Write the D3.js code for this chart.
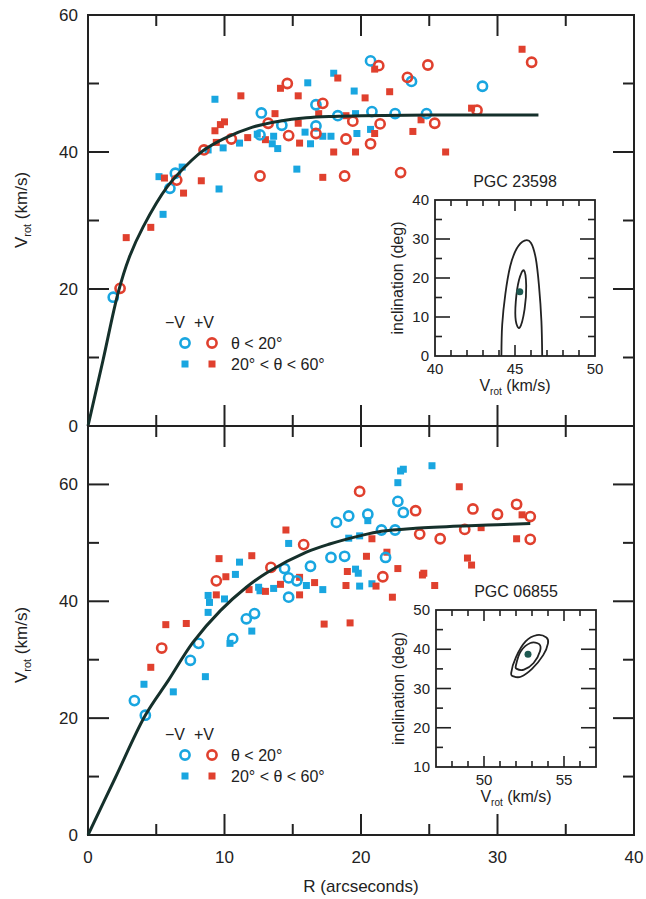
<!DOCTYPE html>
<html><head><meta charset="utf-8">
<script src="https://cdn.jsdelivr.net/npm/d3@7"></script>
<style>body{margin:0;background:#fff}svg{display:block}text{font-family:"Liberation Sans",Arial,sans-serif;fill:#222}</style>
</head><body><svg id="c" width="646" height="899"></svg>
<script>
// ---------- data (R arcsec, V km/s) ----------
const topNegCircle = [[1.85,18.8],[6.0,34.7],[6.4,36.9],[12.6,42.5],[12.7,45.7],[14.2,43.9],[16.7,46.9],[16.7,43.8],[18.3,45.3],[20.7,53.3],[20.8,45.9],[22.5,45.6],[23.7,50.3],[24.8,45.6],[28.9,49.6]];
const topPosCircle = [[2.35,20.1],[6.5,35.9],[8.5,40.3],[10.5,41.9],[12.6,36.5],[13.2,44.2],[14.6,50.0],[14.7,42.4],[16.7,42.7],[17.2,47.1],[18.8,36.5],[18.9,41.9],[19.4,44.5],[20.7,41.2],[21.3,52.6],[21.4,44.1],[22.9,37.0],[23.4,50.9],[24.9,52.7],[25.4,44.2],[28.5,46.1],[32.5,53.1]];
const topNegSquare = [[5.2,36.4],[5.5,30.9],[6.9,37.8],[8.8,40.3],[9.3,47.7],[9.6,34.6],[9.9,40.6],[11.1,41.3],[12.4,42.6],[13.6,42.3],[13.5,41.2],[13.9,40.5],[15.3,37.5],[15.9,42.9],[16.1,50.1],[16.3,41.2],[17.2,42.3],[17.8,42.3],[18.0,51.5],[19.5,48.9],[19.6,45.6],[19.7,42.7],[20.7,43.3]];
const topPosSquare = [[2.8,27.5],[4.6,29.0],[5.6,36.2],[7.0,34.0],[8.3,35.8],[9.3,43.1],[9.7,44.0],[10.0,44.4],[9.4,41.4],[11.2,48.2],[11.7,42.1],[13.0,41.8],[13.7,45.6],[14.1,49.3],[15.4,48.2],[15.4,44.2],[15.5,41.3],[16.9,45.6],[17.2,36.3],[18.0,40.0],[18.3,50.8],[18.9,45.3],[19.6,40.0],[20.3,47.9],[21.0,52.1],[21.0,42.7],[22.1,48.8],[23.8,43.0],[24.4,44.7],[26.2,40.0],[28.1,46.4],[31.8,55.0]];
const topCurve = [[0,0],[1.1,9.6],[2.2,19.4],[3,24.5],[4.05,29.1],[5.8,34.9],[7.6,38.8],[8.5,40.3],[10,42],[12,43.6],[14,44.5],[16,45],[18,45.2],[20,45.3],[25,45.4],[33,45.4]];

const botNegCircle = [[3.4,23.0],[4.2,20.5],[7.5,29.9],[8.1,32.8],[10.6,33.6],[11.6,37.0],[12.2,37.9],[14.4,45.6],[14.7,44.0],[14.7,40.7],[15.3,43.5],[16.3,46.0],[17.8,47.5],[18.2,53.5],[18.8,47.7],[19.1,54.6],[20.5,54.9],[21.5,52.2],[21.8,47.5],[22.5,52.2],[22.7,57.1],[23.1,55.2]];
const botPosCircle = [[5.4,32.0],[9.4,43.5],[13.4,45.8],[15.8,49.7],[19.9,58.8],[21.6,44.2],[24.0,55.5],[24.3,51.5],[25.8,50.7],[27.6,52.3],[28.2,55.8],[30.0,54.9],[31.4,56.6],[32.4,54.5],[32.4,50.6]];
const botNegSquare = [[4.1,25.8],[6.25,24.5],[8.6,27.1],[8.8,38.1],[8.8,41.0],[8.9,39.8],[10.0,40.4],[10.4,32.8],[10.8,44.6],[11.1,46.7],[12.0,34.9],[12.5,42.4],[12.6,41.8],[13.6,42.2],[14.7,49.9],[16.0,42.7],[17.2,42.0],[19.1,50.8],[19.6,45.5],[19.8,44.8],[19.9,42.6],[19.9,51.2],[20.5,53.8],[20.8,43.0],[22.7,60.3],[22.9,62.3],[23.1,62.6],[25.2,63.2]];
const botPosSquare = [[4.6,28.7],[5.7,36.0],[7.2,36.2],[9.4,41.1],[9.6,47.3],[10.1,44.2],[11.8,42.0],[12.0,47.8],[13.0,41.7],[14.1,42.9],[14.5,52.2],[15.5,44.1],[15.5,41.1],[16.6,43.2],[17.3,36.1],[19.2,36.3],[19.0,45.1],[18.9,42.7],[20.4,47.7],[20.8,50.7],[21.1,42.6],[21.9,48.4],[22.3,40.7],[22.7,45.6],[24.5,44.5],[24.6,44.8],[25.4,42.7],[27.2,59.6],[27.8,47.4],[28.1,46.2],[28.8,52.6],[31.4,50.7],[31.8,54.8]];
const botCurve = [[0,0],[2,9.8],[4.2,20.5],[5.9,26.5],[7.7,33.0],[9.7,38.4],[11.6,42.4],[13.1,44.9],[16,48.4],[17.7,49.8],[19.9,51.2],[21.5,52.0],[24,52.5],[27.5,52.9],[30,53.1],[32.4,53.3]];

// inset contours (Vrot km/s, inclination deg)
const inset1Outer = [[44.15,0],[44.2,8],[44.4,16],[44.7,23],[45.1,27.5],[45.6,29.6],[46.0,29],[46.3,25],[46.5,18],[46.65,9],[46.7,0]];
const inset1Inner = [[45.55,22],[45.7,18],[45.6,12],[45.3,7.3],[45.05,9],[45.05,14],[45.25,19.5]];
const inset1Best = [45.3,16.5];
const inset2Outer = [[51.7,34],[52.0,38],[52.6,42],[53.3,43.6],[53.9,43],[54.0,41.5],[53.7,38.5],[53.0,35],[52.3,33],[51.85,33.1]];
const inset2Inner = [[52.0,36],[52.3,39.5],[52.9,41.6],[53.45,41.3],[53.5,39.5],[53.1,36.5],[52.5,34.8],[52.05,35]];
const inset2Best = [52.75,38.7];

const xTickLabels = [0,10,20,30,40];
const topYLabels = [0,20,40,60];
const botYLabels = [0,20,40,60];

const CYAN = "#19a6e0", RED = "#e0402e", CURVE = "#15302b", INK = "#222";

const svg = d3.select("#c");
const L = 88, R = 634;
const x = d3.scaleLinear().domain([0,40]).range([L,R]);

function panel(y0, y1, yMax, yLabels, data, curve, titleY, legendY) {
  const y = d3.scaleLinear().domain([0,yMax]).range([y1,y0]);
  const g = svg.append("g");
  const xt = d3.range(5,40,5);
  xt.forEach(v => {
    const len = v % 10 === 0 ? 21 : 11;
    g.append("line").attr("x1",x(v)).attr("x2",x(v)).attr("y1",y1).attr("y2",y1-len).attr("stroke",INK).attr("stroke-width",2);
    g.append("line").attr("x1",x(v)).attr("x2",x(v)).attr("y1",y0).attr("y2",y0+len).attr("stroke",INK).attr("stroke-width",2);
  });
  d3.range(10,yMax,10).forEach(v => {
    const len = v % 20 === 0 ? 21 : 11;
    g.append("line").attr("x1",L).attr("x2",L+len).attr("y1",y(v)).attr("y2",y(v)).attr("stroke",INK).attr("stroke-width",2);
    g.append("line").attr("x1",R).attr("x2",R-len).attr("y1",y(v)).attr("y2",y(v)).attr("stroke",INK).attr("stroke-width",2);
  });
  g.append("rect").attr("x",L).attr("y",y0).attr("width",R-L).attr("height",y1-y0).attr("fill","none").attr("stroke",INK).attr("stroke-width",2);
  yLabels.forEach(v => {
    g.append("text").attr("x",L-10).attr("y",y(v)+6).attr("text-anchor","end").attr("font-size",17).text(v);
  });
  const t = g.append("text").attr("transform",`translate(27,${titleY}) rotate(-90)`).attr("text-anchor","middle").attr("font-size",17);
  t.append("tspan").text("V");
  t.append("tspan").attr("font-size",11).attr("dy",4).text("rot");
  t.append("tspan").attr("dy",-4).text(" (km/s)");
  const [negC,posC,negS,posS] = data;
  const sq = 7;
  [[negS,CYAN],[posS,RED]].forEach(([arr,c]) => {
    g.selectAll(null).data(arr).enter().append("rect")
      .attr("x",d=>x(d[0])-sq/2).attr("y",d=>y(d[1])-sq/2).attr("width",sq).attr("height",sq).attr("fill",c);
  });
  [[negC,CYAN],[posC,RED]].forEach(([arr,c]) => {
    g.selectAll(null).data(arr).enter().append("circle")
      .attr("cx",d=>x(d[0])).attr("cy",d=>y(d[1])).attr("r",4.6).attr("fill","none").attr("stroke",c).attr("stroke-width",2.6);
  });
  g.append("path").datum(curve).attr("fill","none").attr("stroke",CURVE).attr("stroke-width",3)
    .attr("d", d3.line().x(d=>x(d[0])).y(d=>y(d[1])).curve(d3.curveCatmullRom.alpha(0.5)));
  const ly = legendY;
  g.append("text").attr("x",165).attr("y",ly).attr("font-size",16).attr("xml:space","preserve").text("\u2212V  +V");
  g.append("circle").attr("cx",185).attr("cy",ly+15).attr("r",4.6).attr("fill","none").attr("stroke",CYAN).attr("stroke-width",2.6);
  g.append("circle").attr("cx",212).attr("cy",ly+15).attr("r",4.6).attr("fill","none").attr("stroke",RED).attr("stroke-width",2.6);
  g.append("text").attr("x",231).attr("y",ly+21).attr("font-size",16).text("\u03b8 < 20\u00b0");
  g.append("rect").attr("x",185-3.5).attr("y",ly+36-3.5).attr("width",7).attr("height",7).attr("fill",CYAN);
  g.append("rect").attr("x",212-3.5).attr("y",ly+36-3.5).attr("width",7).attr("height",7).attr("fill",RED);
  g.append("text").attr("x",231).attr("y",ly+42).attr("font-size",16).text("20\u00b0 < \u03b8 < 60\u00b0");
  return y;
}

panel(15, 426, 60, topYLabels, [topNegCircle,topPosCircle,topNegSquare,topPosSquare], topCurve, 210, 328);
panel(426, 835, 70, botYLabels, [botNegCircle,botPosCircle,botNegSquare,botPosSquare], botCurve, 645, 740);

xTickLabels.forEach(v => {
  svg.append("text").attr("x",x(v)).attr("y",863).attr("text-anchor","middle").attr("font-size",17).text(v);
});
svg.append("text").attr("x",x(20)).attr("y",892).attr("text-anchor","middle").attr("font-size",17).text("R (arcseconds)");

function inset(opt) {
  const {x0,x1,y0,y1,xd,yd,xMajor,xLabels,yLabels,yMajorStep,outer,outerClosed,inner,best,title} = opt;
  const sx = d3.scaleLinear().domain(xd).range([x0,x1]);
  const sy = d3.scaleLinear().domain(yd).range([y1,y0]);
  const g = svg.append("g");
  g.append("rect").attr("x",x0).attr("y",y0).attr("width",x1-x0).attr("height",y1-y0).attr("fill","#fff");
  d3.range(xd[0]+1, xd[1], 1).forEach(v => {
    const len = xMajor.includes(v) ? 11 : 6;
    g.append("line").attr("x1",sx(v)).attr("x2",sx(v)).attr("y1",y1).attr("y2",y1-len).attr("stroke",INK).attr("stroke-width",1.6);
    g.append("line").attr("x1",sx(v)).attr("x2",sx(v)).attr("y1",y0).attr("y2",y0+len).attr("stroke",INK).attr("stroke-width",1.6);
  });
  d3.range(yd[0]+5, yd[1], 5).forEach(v => {
    const len = (v % yMajorStep === 0) ? 15 : 7;
    g.append("line").attr("x1",x0).attr("x2",x0+len).attr("y1",sy(v)).attr("y2",sy(v)).attr("stroke",INK).attr("stroke-width",1.6);
    g.append("line").attr("x1",x1).attr("x2",x1-len).attr("y1",sy(v)).attr("y2",sy(v)).attr("stroke",INK).attr("stroke-width",1.6);
  });
  g.append("rect").attr("x",x0).attr("y",y0).attr("width",x1-x0).attr("height",y1-y0).attr("fill","none").attr("stroke",INK).attr("stroke-width",1.8);
  yLabels.forEach(v => g.append("text").attr("x",x0-6).attr("y",sy(v)+5).attr("text-anchor","end").attr("font-size",15).text(v));
  xLabels.forEach(v => g.append("text").attr("x",sx(v)).attr("y",y1+18).attr("text-anchor","middle").attr("font-size",15).text(v));
  const t = g.append("text").attr("x",(x0+x1)/2).attr("y",y1+35).attr("text-anchor","middle").attr("font-size",16);
  t.append("tspan").text("V");
  t.append("tspan").attr("font-size",10).attr("dy",4).text("rot");
  t.append("tspan").attr("dy",-4).text(" (km/s)");
  g.append("text").attr("transform",`translate(${x0-32},${(y0+y1)/2}) rotate(-90)`).attr("text-anchor","middle").attr("font-size",16).text("inclination (deg)");
  g.append("text").attr("x",(x0+x1)/2).attr("y",y0-13).attr("text-anchor","middle").attr("font-size",16).text(title);
  g.append("path").attr("fill","none").attr("stroke",INK).attr("stroke-width",1.8)
    .attr("d", d3.line().x(d=>sx(d[0])).y(d=>sy(d[1])).curve(outerClosed ? d3.curveCardinalClosed : d3.curveCardinal)(outer));
  g.append("path").attr("fill","none").attr("stroke",INK).attr("stroke-width",1.8)
    .attr("d", d3.line().x(d=>sx(d[0])).y(d=>sy(d[1])).curve(d3.curveCardinalClosed)(inner));
  g.append("circle").attr("cx",sx(best[0])).attr("cy",sy(best[1])).attr("r",3.5).attr("fill","#1e5a52");
}

inset({x0:435,x1:595,y0:200,y1:356,xd:[40,50],yd:[0,40],xMajor:[45],xLabels:[40,45,50],yLabels:[0,10,20,30,40],yMajorStep:10,
  outer:inset1Outer,outerClosed:false,inner:inset1Inner,best:inset1Best,title:"PGC 23598"});
inset({x0:436,x1:596,y0:610,y1:767,xd:[47,57],yd:[10,50],xMajor:[50,55],xLabels:[50,55],yLabels:[10,20,30,40,50],yMajorStep:10,
  outer:inset2Outer,outerClosed:true,inner:inset2Inner,best:inset2Best,title:"PGC 06855"});
</script></body></html>
